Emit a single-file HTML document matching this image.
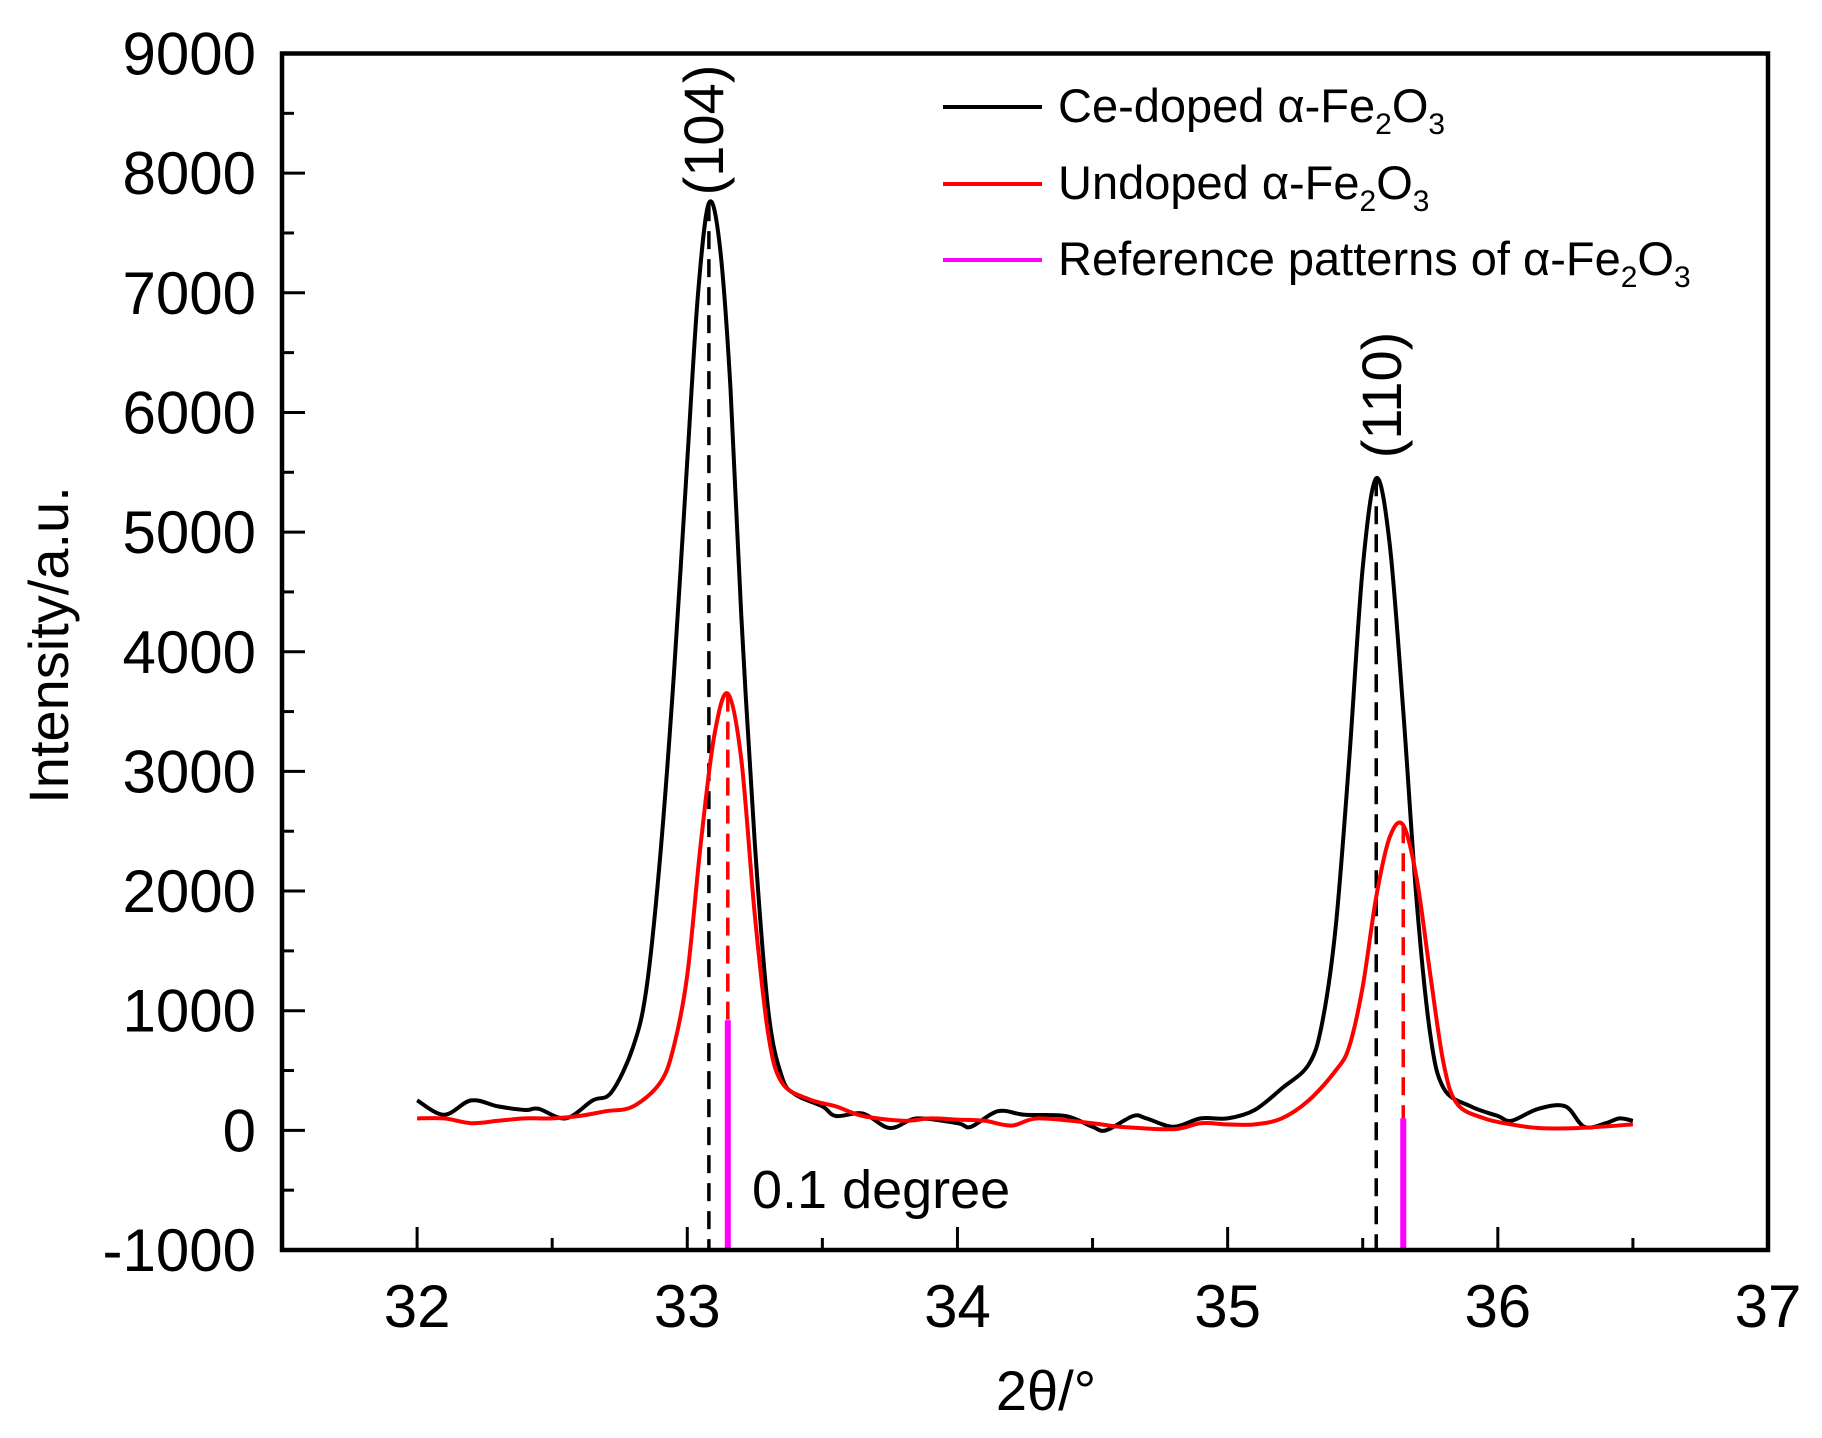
<!DOCTYPE html>
<html><head><meta charset="utf-8"><style>
html,body{margin:0;padding:0;background:#fff;}
svg{display:block;font-family:"Liberation Sans",Arial,sans-serif;}
</style></head><body>
<svg id="chart" width="1822" height="1438" viewBox="0 0 1822 1438" xmlns="http://www.w3.org/2000/svg"></svg>
<script>
const xTicks = [32, 33, 34, 35, 36, 37];
const yTicks = [-1000, 0, 1000, 2000, 3000, 4000, 5000, 6000, 7000, 8000, 9000];
const ceX = [32.0,32.1,32.2,32.3,32.4,32.45,32.55,32.65,32.72,32.8,32.85,32.9,32.95,33.0,33.04,33.08,33.12,33.16,33.2,33.25,33.3,33.35,33.4,33.5,33.55,33.65,33.75,33.85,34.0,34.05,34.15,34.25,34.4,34.5,34.55,34.65,34.7,34.8,34.9,35.0,35.1,35.2,35.3,35.35,35.4,35.45,35.5,35.55,35.6,35.65,35.7,35.75,35.8,35.9,36.0,36.05,36.15,36.25,36.32,36.4,36.45,36.5];
const ceY = [250,130,250,200,170,180,100,250,320,700,1200,2300,3800,5600,7000,7750,7400,6200,4300,2400,1000,450,300,200,120,140,20,100,60,30,160,130,120,30,0,120,100,30,100,100,170,350,550,900,1700,3100,4700,5450,4900,3500,1900,800,350,200,120,80,180,200,30,60,100,80];
const unX = [32.0,32.1,32.2,32.3,32.4,32.5,32.6,32.7,32.8,32.9,32.95,33.0,33.05,33.1,33.15,33.2,33.25,33.3,33.35,33.45,33.55,33.65,33.8,33.9,34.0,34.1,34.2,34.3,34.5,34.6,34.8,34.9,35.0,35.1,35.2,35.3,35.4,35.45,35.5,35.55,35.6,35.65,35.7,35.75,35.8,35.85,35.95,36.05,36.15,36.3,36.5];
const unY = [100,100,60,80,100,100,120,160,200,400,700,1300,2400,3300,3650,3100,1800,800,400,260,200,120,80,100,90,80,40,100,60,30,10,60,50,50,100,250,500,700,1200,1950,2450,2550,2100,1300,550,220,100,50,20,20,50];
const refX = [33.15, 35.65];
const refY = [920, 100];
const ceDropX = [33.08, 35.55];
const ceDropY = [7750, 5450];
const unDropX = [33.15, 35.65];
const unDropY = [3650, 2550];

const L=282,R=1768,T=53.5,B=1250,X0=31.5,X1=37,Y0=-1000,Y1=9000;
const sx=v=>L+(v-X0)/(X1-X0)*(R-L);
const sy=v=>B-(v-Y0)/(Y1-Y0)*(B-T);
const svg=document.getElementById('chart');
const NS='http://www.w3.org/2000/svg';
function mk(tag,attrs,parent){const e=document.createElementNS(NS,tag);for(const k in attrs)e.setAttribute(k,attrs[k]);(parent||svg).appendChild(e);return e;}

for(let v=32;v<=37.001;v+=0.5){
  const major=Math.abs(v-Math.round(v))<1e-6;
  const t=mk('line',{x1:sx(v),x2:sx(v),y1:B,y2:B-(major?23:12),stroke:'#000','stroke-width':3});
  
  
}
for(let v=-1000;v<=9000;v+=500){
  const major=v%1000===0;
  const t=mk('line',{x1:L,x2:L+(major?23:12),y1:sy(v),y2:sy(v),stroke:'#000','stroke-width':3});
  
  
}
xTicks.forEach(v=>{
  const t=mk('text',{x:sx(v),y:1327,'font-size':60,'text-anchor':'middle'});
  t.textContent=v;
  
  
});
yTicks.forEach(v=>{
  const t=mk('text',{x:256,y:sy(v)+21,'font-size':60,'text-anchor':'end'});
  t.textContent=v;
  
  
});

ceDropX.forEach((x,i)=>{
  const l=mk('line',{x1:sx(x),x2:sx(x),y1:sy(ceDropY[i]),y2:B,stroke:'#000','stroke-width':3.5,'stroke-dasharray':'18,10'});
  
  
});
unDropX.forEach((x,i)=>{
  const l=mk('line',{x1:sx(x),x2:sx(x),y1:sy(unDropY[i]),y2:sy(refY[i]),stroke:'#f00','stroke-width':3.5,'stroke-dasharray':'18,10'});
  
  
});

function path(xs,ys,color,name){
  const P=xs.map((x,i)=>[sx(x),sy(ys[i])]);
  let d='M'+P[0][0].toFixed(1)+','+P[0][1].toFixed(1);
  for(let i=0;i<P.length-1;i++){
    const p0=P[i-1]||P[i],p1=P[i],p2=P[i+1],p3=P[i+2]||P[i+1];
    const c1=[p1[0]+(p2[0]-p0[0])/6,p1[1]+(p2[1]-p0[1])/6];
    const c2=[p2[0]-(p3[0]-p1[0])/6,p2[1]-(p3[1]-p1[1])/6];
    d+='C'+c1[0].toFixed(1)+','+c1[1].toFixed(1)+' '+c2[0].toFixed(1)+','+c2[1].toFixed(1)+' '+p2[0].toFixed(1)+','+p2[1].toFixed(1);
  }
  const p=mk('path',{d:d,fill:'none',stroke:color,'stroke-width':4,'stroke-linejoin':'round'});
  
  
}
path(ceX,ceY,'#000','ce-doped-series');
path(unX,unY,'#f00','undoped-series');
refX.forEach((x,i)=>{
  const l=mk('line',{x1:sx(x),x2:sx(x),y1:sy(refY[i]),y2:B,stroke:'#f0f','stroke-width':6});
  
  
});

const f=mk('rect',{x:L,y:T,width:R-L,height:B-T,fill:'none',stroke:'#000','stroke-width':4.5});


</script>
<div style="position:absolute;left:0;top:0;width:1822px;height:1438px;pointer-events:none;">
<svg width="1822" height="1438" style="position:absolute;left:0;top:0;font-family:'Liberation Sans',Arial,sans-serif;">
  <g>
    <line x1="943" x2="1042" y1="107" y2="107" stroke="#000" stroke-width="4"/>
    <text x="1058" y="122" font-size="47">Ce-doped α-Fe<tspan font-size="30" dy="12">2</tspan><tspan dy="-12">O</tspan><tspan font-size="30" dy="12">3</tspan></text>
    <line x1="943" x2="1042" y1="184" y2="184" stroke="#f00" stroke-width="4"/>
    <text x="1058" y="199" font-size="47">Undoped α-Fe<tspan font-size="30" dy="12">2</tspan><tspan dy="-12">O</tspan><tspan font-size="30" dy="12">3</tspan></text>
    <line x1="943" x2="1042" y1="260" y2="260" stroke="#f0f" stroke-width="4"/>
    <text x="1058" y="275" font-size="47">Reference patterns of α-Fe<tspan font-size="30" dy="12">2</tspan><tspan dy="-12">O</tspan><tspan font-size="30" dy="12">3</tspan></text>
  </g>
  <text transform="translate(723,130) rotate(-90)" font-size="56" text-anchor="middle">(104)</text>
  <text transform="translate(1401,395) rotate(-90)" font-size="56" text-anchor="middle">(110)</text>
  <text x="752" y="1208" font-size="54">0.1 degree</text>
  <text x="1046" y="1410" font-size="56" text-anchor="middle">2θ/°</text>
  <text transform="translate(68,645) rotate(-90)" font-size="56" text-anchor="middle">Intensity/a.u.</text>
</svg>
</div>
</body></html>
